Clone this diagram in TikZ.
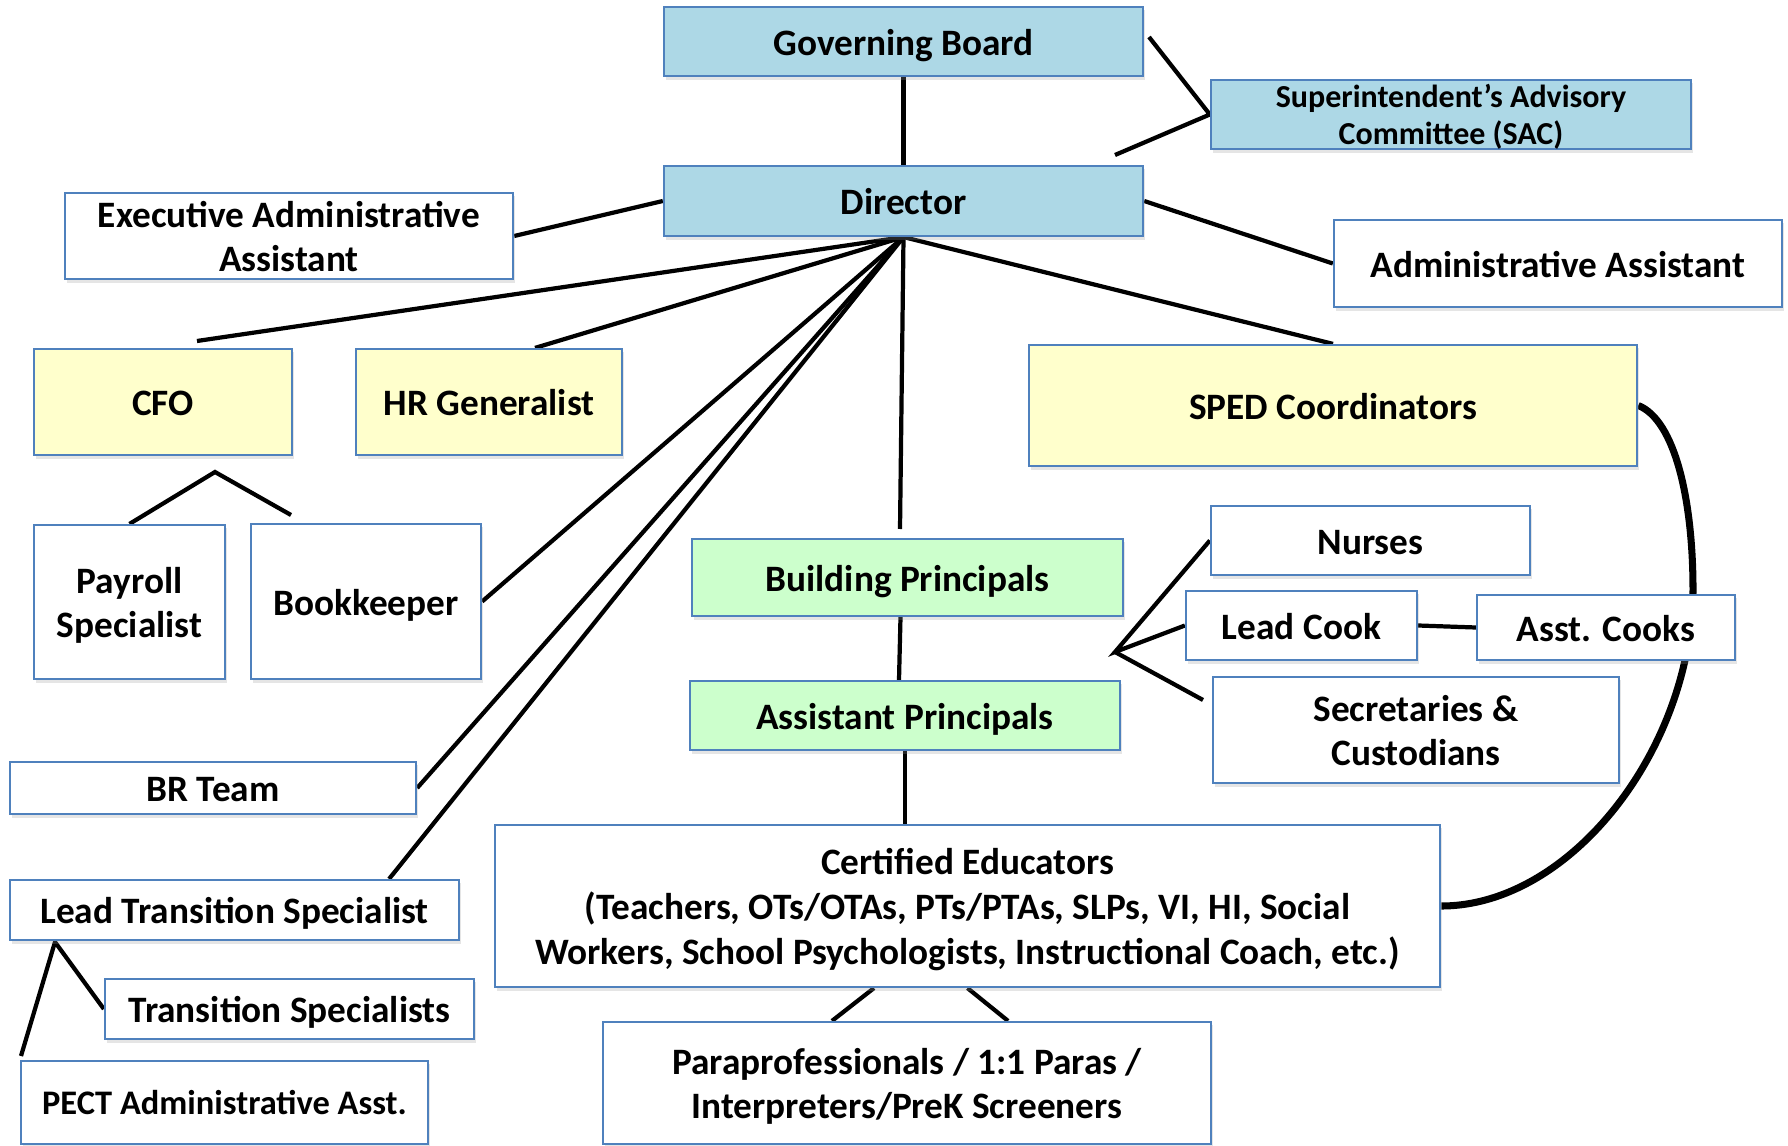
\documentclass[tikz,border=0pt]{standalone}
\usepackage{fontspec}
\setmainfont{Carlito}
\usetikzlibrary{shadows,calc}
\definecolor{bordc}{RGB}{79,129,189}
\definecolor{bluef}{RGB}{173,216,230}
\definecolor{yelf}{RGB}{255,255,204}
\definecolor{grnf}{RGB}{204,255,204}
\pgfdeclarelayer{bg}
\pgfsetlayers{bg,main}
\begin{document}
\begin{tikzpicture}[x=0.01cm,y=-0.01cm,
  box/.style={draw=bordc, line width=0.6pt, fill=white, inner sep=0pt, align=center,
    font=\bfseries\fontsize{10.6}{12.75}\selectfont,
    text height=7.7pt, text depth=0pt,
    drop shadow={shadow xshift=0.02cm, shadow yshift=-0.035cm, opacity=0.25, fill=black!40}},
  twolines/.style={text height=20.4pt, text depth=0pt},
  threelines/.style={text height=33.2pt, text depth=0pt},
  sz/.style 2 args={minimum width=#1cm, minimum height=#2cm},
  conn/.style={line width=1.2pt, black},
  curve/.style={line width=2pt, black}]
\useasboundingbox (0,0) rectangle (1788,1146);
% nodes
\node[box, fill=bluef, sz={4.79}{0.69}] (gb) at (903.5,41.5) {Governing Board};
\node[box, fill=bluef, sz={4.80}{0.69}, font=\bfseries\fontsize{9.1}{10.6}\selectfont, text height=17.3pt, text depth=0pt] (sac) at (1451,114.5) {Superintendent’s Advisory\\Committee (SAC)};
\node[box, fill=bluef, sz={4.79}{0.70}] (dir) at (903.5,201) {Director};
\node[box, twolines, sz={4.48}{0.86}] (exec) at (289,236) {Executive Administrative\\Assistant};
\node[box, sz={4.48}{0.87}] (admin) at (1558,263.5) {Administrative Assistant};
\node[box, fill=yelf, sz={2.58}{1.06}] (cfo) at (163,402) {CFO};
\node[box, fill=yelf, sz={2.66}{1.06}] (hr) at (489,402) {HR Generalist};
\node[box, fill=yelf, sz={6.08}{1.21}] (sped) at (1333,405.5) {SPED Coordinators};
\node[box, twolines, sz={1.91}{1.54}] (pay) at (129.5,602) {Payroll\\Specialist};
\node[box, sz={2.30}{1.55}] (book) at (366,601.5) {Bookkeeper};
\node[box, fill=grnf, sz={4.31}{0.77}] (bp) at (907.5,577.5) {Building Principals};
\node[box, fill=grnf, sz={4.30}{0.69}] (ap) at (905,715.5) {Assistant Principals};
\node[box, sz={3.19}{0.69}] (nurse) at (1370.5,540.5) {Nurses};
\node[box, sz={2.31}{0.69}] (lcook) at (1301.5,625.5) {Lead Cook};
\node[box, sz={2.58}{0.65}] (acook) at (1606,627.5) {Asst. Cooks};
\node[box, twolines, sz={4.06}{1.06}] (sec) at (1416,730) {Secretaries \&\\Custodians};
\node[box, sz={4.06}{0.52}] (br) at (213,788) {BR Team};
\node[box, threelines, sz={9.45}{1.62}] (cert) at (967.5,906) {Certified Educators\\(Teachers, OTs/OTAs, PTs/PTAs, SLPs, VI, HI, Social\\Workers, School Psychologists, Instructional Coach, etc.)};
\node[box, sz={4.49}{0.60}] (lts) at (234.5,910) {Lead Transition Specialist};
\node[box, sz={3.69}{0.60}] (ts) at (289.5,1009) {Transition Specialists};
\node[box, sz={4.07}{0.83}, font=\bfseries\fontsize{9.8}{11.8}\selectfont, text height=7.1pt] (pect) at (224.5,1102.5) {PECT Administrative Asst.};
\node[box, twolines, sz={6.08}{1.22}] (para) at (907,1083) {Paraprofessionals / 1:1 Paras /\\Interpreters/PreK Screeners};
% free ends
\coordinate (sacA) at (1149,37);
\coordinate (sacB) at (1115,155);
\coordinate (cfoEnd) at (197,341);
\coordinate (bpEnd) at (900,529);
\coordinate (cfoPk) at (215,472);
\coordinate (bookEnd) at (291,515);
\coordinate (ltsPk) at (55,942);
\coordinate (pectEnd) at (21,1056);
\coordinate (rgHub) at (1115,652);
\coordinate (secEnd) at (1203,700);
\begin{pgfonlayer}{bg}
\fill[white] (0,0) rectangle (1788,1146);
\draw[conn] (gb.south) -- (dir.north);
\draw[conn] (sacA) -- (sac.west) -- (sacB);
\draw[conn] (dir.west) -- (exec.east);
\draw[conn] (dir.east) -- (admin.west);
\draw[conn] (dir.south) -- (cfoEnd);
\draw[conn] (dir.south) -- ([xshift=0.46cm]hr.north);
\draw[conn] (dir.south) -- (book.east);
\draw[conn] (dir.south) -- (br.east);
\draw[conn] (dir.south) -- ([xshift=1.545cm]lts.north);
\draw[conn] (dir.south) -- (bpEnd);
\draw[conn] (dir.south) -- (sped.north);
\draw[conn] ([xshift=-0.07cm]bp.south) -- ([xshift=-0.06cm]ap.north);
\draw[conn] (ap.south) -- (ap.south |- cert.north);
\draw[conn] (pay.north) -- (cfoPk) -- (bookEnd);
\draw[conn] (ts.west) -- (ltsPk) -- (pectEnd);
\draw[conn] (nurse.west) -- (rgHub) -- (lcook.west);
\draw[conn] (rgHub) -- (secEnd);
\draw[conn] (lcook.east) -- (acook.west);
\draw[conn] ([xshift=-0.935cm]cert.south) -- ([xshift=-0.75cm]para.north);
\draw[conn] (cert.south) -- ([xshift=1.01cm]para.north);
\draw[curve] (sped.east) .. controls (1675,420) and (1693,500) .. (1693,590) .. controls (1692,750) and (1570,906) .. (cert.east);
\end{pgfonlayer}
\end{tikzpicture}
\end{document}
